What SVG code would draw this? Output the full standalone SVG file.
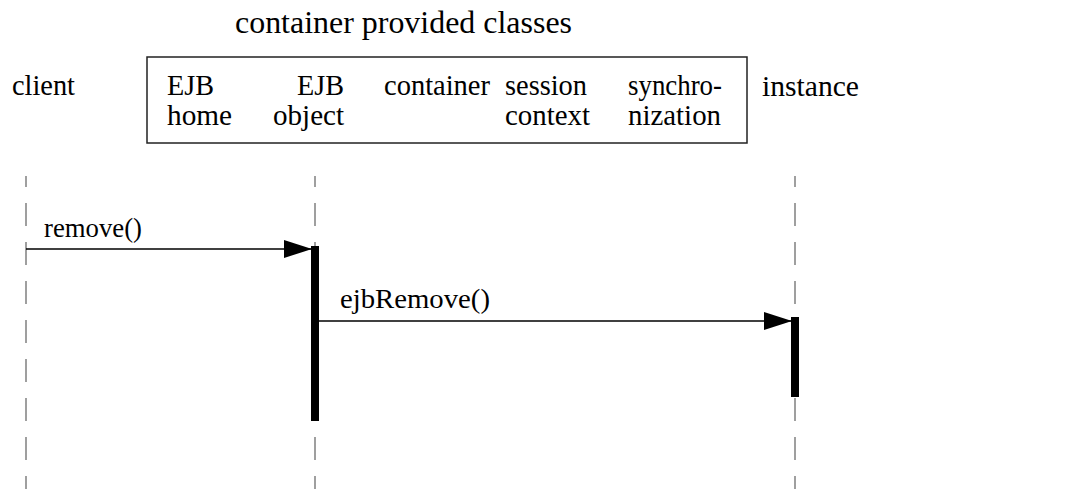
<svg xmlns="http://www.w3.org/2000/svg" width="1081" height="489" viewBox="0 0 1081 489">
<style>
  text { font-family: "Liberation Serif", "Times New Roman", serif; fill: #000; }
  .lbl { font-size: 30px; }
  .ttl { font-size: 31px; }
  .msg { font-size: 27px; }
  .life { stroke: #808080; stroke-width: 1.5; stroke-dasharray: 23 16; stroke-dashoffset: 12; fill: none; }
  .act { fill: #000; }
  .call { stroke: #000; stroke-width: 1.5; fill: none; marker-end: url(#arrow); }
  .box { fill: none; stroke: #222; stroke-width: 1.5; }
</style>
<defs>
  <marker id="arrow" markerUnits="userSpaceOnUse" markerWidth="28" markerHeight="18" refX="28" refY="9" orient="auto">
    <path d="M0,0 L28,9 L0,18 z" fill="#000"/>
  </marker>
</defs>
<rect width="1081" height="489" fill="#fff"/>

<g id="title">
  <text class="ttl" x="235" y="33" textLength="337" lengthAdjust="spacingAndGlyphs">container provided classes</text>
</g>

<g id="client">
  <text class="lbl" x="12" y="95" textLength="63" lengthAdjust="spacingAndGlyphs">client</text>
  <line class="life" x1="26" y1="176" x2="26" y2="489"/>
</g>

<g id="container-box">
  <rect class="box" x="147" y="57" width="600" height="86"/>
</g>

<g id="ejb-home">
  <text class="lbl" x="167" y="95" textLength="47" lengthAdjust="spacingAndGlyphs">EJB</text>
  <text class="lbl" x="167" y="125" textLength="65" lengthAdjust="spacingAndGlyphs">home</text>
</g>

<g id="ejb-object">
  <text class="lbl" x="297" y="95" textLength="47" lengthAdjust="spacingAndGlyphs">EJB</text>
  <text class="lbl" x="273" y="125" textLength="71" lengthAdjust="spacingAndGlyphs">object</text>
  <line class="life" x1="315" y1="176" x2="315" y2="489"/>
  <rect class="act" x="311" y="246" width="8" height="175"/>
</g>

<g id="container">
  <text class="lbl" x="384" y="95" textLength="106" lengthAdjust="spacingAndGlyphs">container</text>
</g>

<g id="session-context">
  <text class="lbl" x="505" y="95" textLength="82" lengthAdjust="spacingAndGlyphs">session</text>
  <text class="lbl" x="505" y="125" textLength="85" lengthAdjust="spacingAndGlyphs">context</text>
</g>

<g id="synchronization">
  <text class="lbl" x="628" y="95" textLength="94" lengthAdjust="spacingAndGlyphs">synchro-</text>
  <text class="lbl" x="628" y="125" textLength="93" lengthAdjust="spacingAndGlyphs">nization</text>
</g>

<g id="instance">
  <text class="lbl" x="762" y="96" textLength="97" lengthAdjust="spacingAndGlyphs">instance</text>
  <line class="life" x1="795" y1="176" x2="795" y2="489"/>
  <rect class="act" x="791" y="317" width="8" height="80"/>
</g>

<g id="connectors">
  <line class="call" x1="26" y1="249" x2="312" y2="249"/>
  <text class="msg" x="44" y="237" textLength="98" lengthAdjust="spacingAndGlyphs">remove()</text>
  <line class="call" x1="319" y1="321" x2="792" y2="321"/>
  <text class="msg" x="340" y="308" textLength="150" lengthAdjust="spacingAndGlyphs">ejbRemove()</text>
</g>
</svg>
